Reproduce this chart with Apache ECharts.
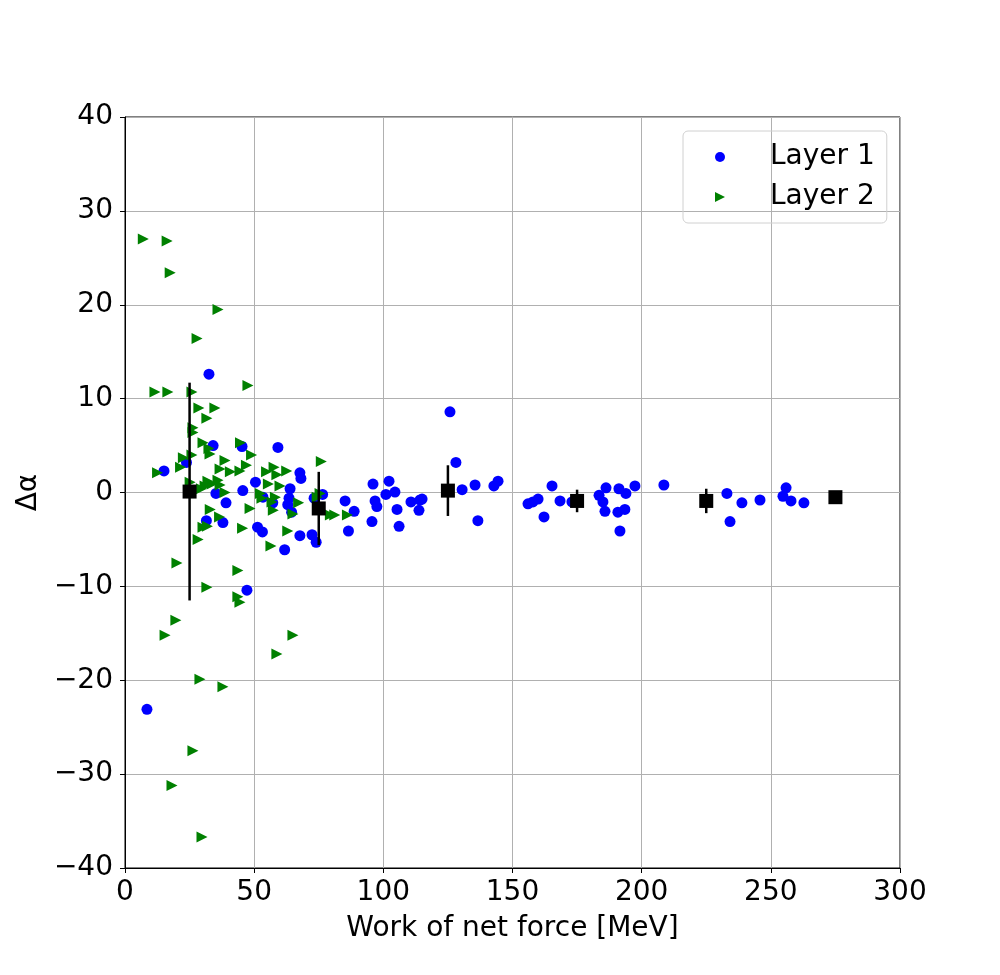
<!DOCTYPE html>
<html>
<head>
<meta charset="utf-8">
<script src="https://cdn.jsdelivr.net/npm/echarts@6/dist/echarts.min.js"></script>
<style>
  html, body { margin: 0; padding: 0; background: #fff; }
  #chart { width: 1000px; height: 975px; }
</style>
</head>
<body>
<div id="chart"></div>
<script>
// Layer 1 (blue circles)
const layer1X = [8.5, 15.1, 23.8, 32.5, 34.1, 45.3, 59.2, 50.5, 45.6, 35.2, 39.1, 53.4, 57.2, 31.5, 37.9,
  51.3, 53.2, 61.8, 47.2, 67.7, 68.1, 63.9, 63.5, 63.0, 64.5, 73.2, 76.5, 67.7, 72.4, 74.0,
  85.2, 88.7, 86.5, 96.0, 102.2, 96.8, 97.5, 95.6, 101.0, 104.5, 105.3, 106.1, 110.7, 114.2, 115.0,
  113.8, 125.8, 128.1, 130.5, 135.5, 136.6, 142.8, 144.4, 156.0, 157.9, 159.9, 162.2, 165.3, 168.4,
  173.0, 183.5, 185.0, 185.8, 186.2, 191.2, 193.9, 190.8, 193.5, 191.6, 197.4, 208.6, 233.0, 238.8,
  234.2, 245.8, 255.9, 254.7, 257.8, 262.8];
const layer1Y = [-23.1, 2.3, 3.2, 12.6, 5.0, 4.9, 4.8, 1.1, 0.2, -0.1, -1.1, -0.5, -1.1, -3.0, -3.2,
  -3.7, -4.2, -6.1, -10.4, 2.1, 1.5, 0.4, -0.6, -1.3, -2.1, -0.6, -0.2, -4.6, -4.5, -5.3,
  -0.9, -2.0, -4.1, 0.9, 1.2, -0.9, -1.5, -3.1, -0.2, 0.05, -1.8, -3.6, -1.0, -0.8, -0.7,
  -1.9, 8.6, 3.2, 0.3, 0.8, -3.0, 0.7, 1.2, -1.2, -1.0, -0.7, -2.6, 0.7, -0.9,
  -1.0, -0.3, -1.0, -2.0, 0.5, 0.4, -0.1, -2.1, -1.8, -4.1, 0.7, 0.8, -0.1, -1.1,
  -3.1, -0.8, 0.5, -0.4, -0.9, -1.1];

// Layer 2 (green triangles)
const layer2X = [7.1, 16.3, 17.5, 36.0, 27.9, 47.6, 11.6, 16.6, 25.9, 28.6, 34.8, 31.7, 26.3, 26.3, 30.2,
  44.7, 32.5, 32.9, 38.7, 22.6, 25.9, 21.5, 12.6, 36.8, 40.8, 44.5, 47.0, 49.0, 54.8, 57.7,
  58.8, 62.6, 25.2, 32.1, 36.0, 29.6, 31.0, 33.7, 36.8, 38.7, 55.5, 60.0, 52.4, 53.0, 58.2,
  56.9, 57.4, 48.4, 33.0, 36.6, 30.2, 31.9, 45.5, 28.3, 56.5, 67.2, 65.0, 76.0, 75.5, 74.4,
  79.5, 81.2, 86.1, 63.0, 20.1, 43.7, 31.7, 43.7, 44.5, 19.7, 15.5, 65.0, 58.8, 29.0, 37.9,
  26.3, 18.2, 29.8];
const layer2Y = [27.0, 26.8, 23.4, 19.5, 16.4, 11.4, 10.7, 10.7, 10.7, 9.0, 9.0, 7.9, 6.9, 6.4, 5.3,
  5.3, 4.7, 4.1, 3.4, 3.7, 4.0, 2.7, 2.1, 2.5, 2.2, 2.3, 2.9, 4.0, 2.2, 2.7,
  1.9, 2.3, 1.1, 1.2, 1.3, 0.4, 0.7, 0.9, 0.8, 0.0, 0.9, 0.7, -0.1, -0.6, -0.5,
  -1.0, -1.9, -1.7, -1.8, -2.6, -3.7, -3.6, -3.8, -5.0, -5.7, -1.1, -2.3, 3.3, -0.1, -0.5,
  -2.4, -2.4, -2.4, -4.1, -7.5, -8.3, -10.1, -11.1, -11.7, -13.6, -15.2, -15.2, -17.2, -19.9, -20.7,
  -27.5, -31.2, -36.7];

// binned means with error bars
const binX = [25, 75, 125, 175, 225, 275];
const binY = [0.1, -1.7, 0.2, -0.9, -0.9, -0.5];
const binErr = [11.6, 3.9, 2.7, 1.2, 1.3, 0.3];

const zip = (xs, ys) => xs.map((x, i) => [x, ys[i]]);
const minus = v => String(v).replace('-', '\u2212');

const chart = echarts.init(document.getElementById('chart'));
const font = 'DejaVu Sans';
const triRight = 'path://M0,0 L10,5 L0,10 Z';

const option = {
  animation: false,
  grid: {
    left: 125, right: 100, top: 117, bottom: 107,
    show: true, borderColor: '#000', borderWidth: 1
  },
  legend: {
    orient: 'vertical',
    left: 683,
    top: 131,
    padding: [12, 12, 12, 32],
    itemGap: 12,
    itemWidth: 10,
    itemHeight: 10,
    borderColor: '#d0d0d0',
    borderWidth: 1,
    borderRadius: 5,
    textStyle: { fontFamily: font, fontSize: 28, color: '#000', padding: [0, 0, 0, 40] },
    data: [
      { name: 'Layer 1', icon: 'circle' },
      { name: 'Layer 2', icon: triRight }
    ]
  },
  xAxis: {
    type: 'value',
    min: 0, max: 300, interval: 50,
    name: 'Work of net force [MeV]',
    nameLocation: 'middle',
    nameGap: 47,
    nameTextStyle: { fontFamily: font, fontSize: 28, color: '#000' },
    axisLine: { show: true, onZero: false, lineStyle: { color: '#000' } },
    axisTick: { show: true, length: 5, lineStyle: { color: '#000' } },
    axisLabel: { fontFamily: font, fontSize: 28, color: '#000', margin: 11 },
    splitLine: { show: true, lineStyle: { color: '#b0b0b0', width: 1 } }
  },
  yAxis: {
    type: 'value',
    min: -40, max: 40, interval: 10,
    name: '\u0394\u03b1',
    nameLocation: 'middle',
    nameGap: 72,
    nameRotate: 90,
    nameTextStyle: { fontFamily: font, fontSize: 28, color: '#000' },
    axisLine: { show: true, onZero: false, lineStyle: { color: '#000' } },
    axisTick: { show: true, length: 5, lineStyle: { color: '#000' } },
    axisLabel: { fontFamily: font, fontSize: 28, color: '#000', margin: 12, formatter: minus },
    splitLine: { show: true, lineStyle: { color: '#b0b0b0', width: 1 } }
  },
  series: [
    {
      name: 'Layer 1',
      type: 'scatter',
      symbol: 'circle',
      symbolSize: 11,
      itemStyle: { color: '#0000ff', opacity: 1 },
      data: zip(layer1X, layer1Y),
      z: 2
    },
    {
      name: 'Layer 2',
      type: 'scatter',
      symbol: triRight,
      symbolSize: 11,
      itemStyle: { color: '#008000', opacity: 1 },
      data: zip(layer2X, layer2Y),
      z: 3
    },
    {
      type: 'custom',
      z: 4,
      renderItem: function (params, api) {
        const x = api.value(0), y = api.value(1), e = api.value(2);
        const top = api.coord([x, y + e]);
        const bot = api.coord([x, y - e]);
        const c = api.coord([x, y]);
        return {
          type: 'group',
          children: [
            { type: 'line', shape: { x1: top[0], y1: top[1], x2: bot[0], y2: bot[1] },
              style: { stroke: '#000', lineWidth: 2.5 } },
            { type: 'rect', shape: { x: c[0] - 7, y: c[1] - 7, width: 14, height: 14 },
              style: { fill: '#000' } }
          ]
        };
      },
      data: binX.map((x, i) => [x, binY[i], binErr[i]])
    }
  ]
};

chart.setOption(option);
</script>
</body>
</html>
